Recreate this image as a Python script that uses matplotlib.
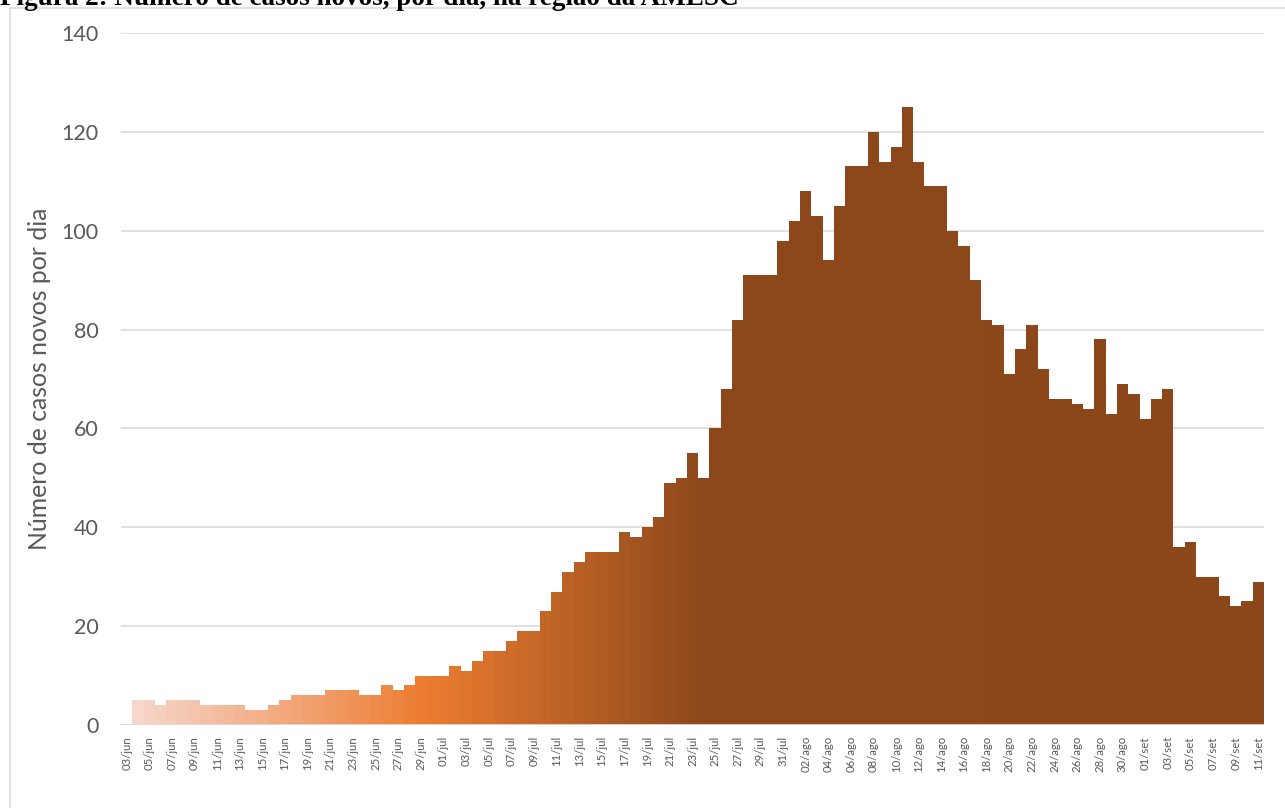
import matplotlib
matplotlib.use("Agg")
import matplotlib.pyplot as plt
import numpy as np
import pandas as pd
from matplotlib.colors import LinearSegmentedColormap
from matplotlib.patches import Rectangle

# ---- data ----
title = "Figura 2: Número de casos novos, por dia, na região da AMESC"
ylabel = "Número de casos novos por dia"
meses = {6: "jun", 7: "jul", 8: "ago", 9: "set"}
datas = pd.date_range("2020-06-03", "2020-09-11", freq="D")
categorias = [f"{d.day:02d}/{meses[d.month]}" for d in datas]
casos = [0, 5, 5, 4, 5, 5, 5, 4, 4, 4, 4, 3, 3, 4, 5, 6, 6, 6, 7, 7, 7, 6, 6, 8, 7, 8, 10,
         10, 10, 12, 11, 13, 15, 15, 17, 19, 19, 23, 27, 31, 33, 35, 35, 35, 39, 38, 40, 42,
         49, 50, 55, 50, 60, 68, 82, 91, 91, 91, 98, 102, 108, 103, 94, 105, 113, 113, 120,
         114, 117, 125, 114, 109, 109, 100, 97, 90, 82, 81, 71, 76, 81, 72, 66, 66, 65, 64,
         78, 63, 69, 67, 62, 66, 68, 36, 37, 30, 30, 26, 24, 25, 29]
yticks = [0, 20, 40, 60, 80, 100, 120, 140]

W, H = 1285, 808
fig = plt.figure(figsize=(W / 100, H / 100), dpi=100)

# chart frame
fig.patches.append(Rectangle((10 / W, -0.1), 1.2, 1 - 8 / H + 0.1, transform=fig.transFigure,
                             fill=False, edgecolor="#d9d9d9", linewidth=1.1))

ax = fig.add_axes([121 / W, (H - 725) / H, (1264 - 121) / W, (725 - 33) / H])

grad = LinearSegmentedColormap.from_list(
    "g", [(0.0, "#f7d9d0"), (0.26, "#ed7d31"), (0.51, "#8c481a"), (1.0, "#8b4719")])
n = len(casos)
x = np.arange(n)
colors = [grad(i / (n - 1)) for i in x]
ax.bar(x, casos, width=1.0, color=colors, linewidth=0, zorder=2)

ax.set_xlim(-0.5, n - 0.5)
ax.set_ylim(0, 140)
ax.set_yticks(yticks)
ax.grid(axis="y", color="#d9d9d9", linewidth=1.1, zorder=0)
ax.set_axisbelow(True)
for s in ax.spines.values():
    s.set_visible(False)
ax.axhline(0, color="#d9d9d9", linewidth=1.3, zorder=3)

ax.set_xticks(x[::2])
ax.set_xticklabels(categorias[::2], rotation=90, fontsize=8.2, color="#595959",
                   fontfamily="Lato")
ax.tick_params(axis="x", length=0, pad=8)
ax.tick_params(axis="y", length=0, pad=16, labelsize=15.5, labelcolor="#595959")
for lab in ax.get_yticklabels():
    lab.set_fontfamily("Lato")

fig.text(40 / W, 1 - 379 / H, ylabel, rotation=90, ha="center", va="center",
         fontsize=17.8, color="#595959", fontfamily="Lato")

fig.text(0, 1 - 5 / H, title, ha="left", va="baseline", fontsize=19.5,
         fontweight="bold", fontfamily="Liberation Serif", color="black")

fig.savefig("out.png", dpi=100)
